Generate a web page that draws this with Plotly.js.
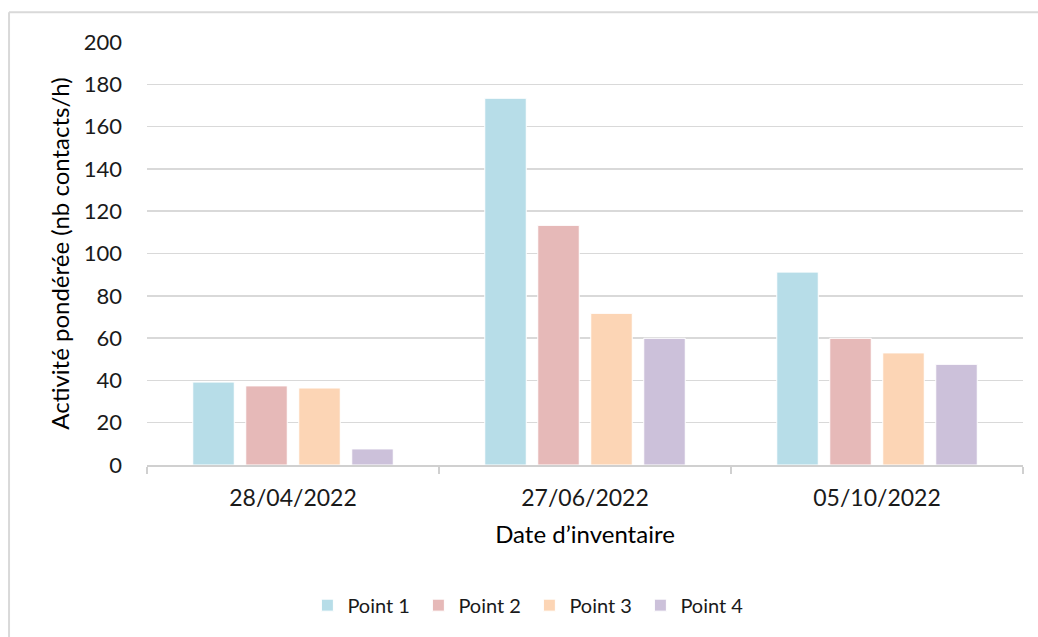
<!DOCTYPE html>
<html>
<head>
<meta charset="utf-8">
<script src="https://cdn.plot.ly/plotly-3.0.1.min.js"></script>
<style>
html,body{margin:0;padding:0;background:#fff;}
#chart{width:1038px;height:637px;}
</style>
</head>
<body>
<div id="chart"></div>
<script>
const categories = ["28/04/2022", "27/06/2022", "05/10/2022"];
const seriesNames = ["Point 1", "Point 2", "Point 3", "Point 4"];
const point1 = [39.2, 173.4, 91.2];
const point2 = [37.4, 113.3, 59.9];
const point3 = [36.4, 71.7, 53.0];
const point4 = [7.6, 59.9, 47.6];
const colors = ["#b7dde8", "#e6b9b8", "#fcd5b5", "#ccc1da"];
const yTicks = [0, 20, 40, 60, 80, 100, 120, 140, 160, 180, 200];

const values = [point1, point2, point3, point4];
const FONT = "Lato, 'Noto Sans', sans-serif";

const traces = values.map((v, i) => ({
  type: "bar",
  name: seriesNames[i],
  x: categories,
  y: v,
  marker: {color: colors[i], line: {color: "#ffffff", width: 1}},
  hoverinfo: "x+y+name"
}));

const layout = {
  width: 1038,
  height: 637,
  paper_bgcolor: "#ffffff",
  plot_bgcolor: "#ffffff",
  margin: {l: 147, r: 15, t: 42, b: 172, autoexpand: false},
  barmode: "group",
  bargap: 0.274,
  bargroupgap: 0.217,
  font: {family: FONT, color: "#1a1a1a", size: 20},
  xaxis: {
    type: "category",
    automargin: false,
    tickson: "boundaries",
    ticks: "outside",
    ticklen: 7,
    tickwidth: 1.5,
    tickcolor: "#d0d0d0",
    showline: true,
    linecolor: "#d0d0d0",
    linewidth: 1.5,
    showgrid: false,
    ticklabelstandoff: 12,
    tickfont: {family: FONT, size: 23, color: "#1a1a1a"},
    title: {text: "Date d\u2019inventaire", font: {family: FONT, size: 24, color: "#000"}, standoff: 16}
  },
  yaxis: {
    range: [0, 200],
    automargin: false,
    tickmode: "array",
    tickvals: yTicks,
    ticktext: yTicks.map(String),
    showgrid: true,
    gridcolor: "#d9d9d9",
    gridwidth: 1.5,
    zeroline: false,
    showline: false,
    ticks: "",
    ticklabelstandoff: 24,
    tickfont: {family: FONT, size: 22, color: "#1a1a1a"},
    title: {text: "Activité pondérée (nb contacts/h)", font: {family: FONT, size: 24, color: "#000"}, standoff: 7}
  },
  legend: {
    orientation: "h",
    xref: "container",
    yref: "container",
    x: 0.51,
    xanchor: "center",
    y: 0.05,
    yanchor: "middle",
    font: {family: FONT, size: 20, color: "#1a1a1a"},
    entrywidth: 66,
    entrywidthmode: "pixels",
    itemwidth: 30,
    traceorder: "normal"
  },
  shapes: [
    {type: "line", xref: "paper", yref: "paper", x0: -0.1575, x1: 1.02, y0: 1.0705, y1: 1.0705, line: {color: "#d9d9d9", width: 2}},
    {type: "line", xref: "paper", yref: "paper", x0: -0.1575, x1: -0.1575, y0: 1.0705, y1: -0.5, line: {color: "#d9d9d9", width: 2}}
  ]
};

Plotly.newPlot("chart", traces, layout, {displayModeBar: false, staticPlot: true});
</script>
</body>
</html>
